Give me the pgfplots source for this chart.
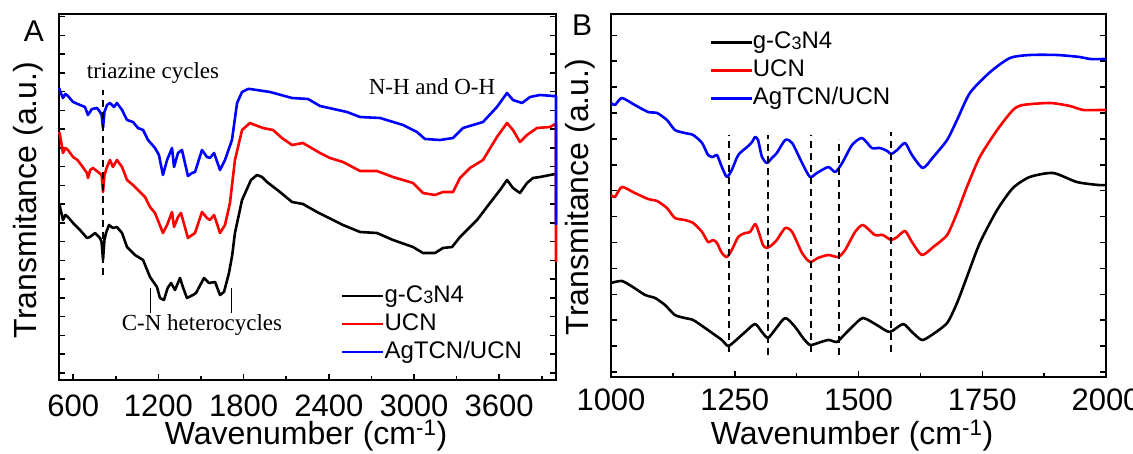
\documentclass[border=0pt]{standalone}
\usepackage{pgfplots}
\pgfplotsset{compat=1.18}
\usepackage{fontspec}
\setmainfont{Liberation Sans}
\newfontfamily\tnr{Liberation Serif}
\definecolor{cblue}{RGB}{0,0,255}
\definecolor{cred}{RGB}{255,0,0}
\pgfplotsset{
  common/.style={
    anchor=south west, scale only axis,
    axis line style={line width=1.8pt},
    every tick/.style={line width=1.5pt, black},
    major tick length=6pt, minor tick length=4pt,
    xtick pos=lower, ytick pos=both,
    yticklabels={},
    /pgf/number format/assume math mode=true,
    /pgf/number format/1000 sep={},
    tick label style={font=\fontsize{31}{31}\selectfont},
    xticklabel style={anchor=base, yshift=-37pt},
    every axis plot/.append style={line width=2.6pt, line join=round},
    legend cell align=left,
    legend image code/.code={\draw[#1] (0pt,0pt) -- (41pt,0pt);},
  },
  lgd/.style={legend style={draw=none, fill=none, at={#1}, anchor=north west,
    font=\fontsize{24}{24}\selectfont, row sep=4pt,
    nodes={inner sep=0pt, text height=18pt, text depth=6pt},
    /tikz/every even column/.append style={column sep=4pt}}},
}
\newcommand{\gcn}{g-C\raisebox{-1pt}{\fontsize{18}{18}\selectfont 3}N4}
\begin{document}
\begin{tikzpicture}[x=1pt,y=1pt]
\useasboundingbox (0,0) rectangle (1133,454);
\clip (0,0) rectangle (1133,454);
% ---------------- Panel A
\begin{axis}[common, at={(59pt,74pt)}, width=497pt, height=366pt, clip=false,
  xmin=500, xmax=4000, ymin=0, ymax=366,
  xtick={600,1200,1800,2400,3000,3600},
  minor xtick={900,1500,2100,2700,3300,3900},
  ytick={7,25.75,44.5,63.25,82,100.75,119.5,138.25,157,175.75,194.5,213.25,232,250.75,269.5,288.25,307,325.75,344.5,363.25},
  lgd={(0.561,0.268)}]
\addplot[black] coordinates {
(502,177)(507,173)(528,160)(545,165)(563,163)(599,157)(648,150)(697,142)(718,143)(754,147)(789,142)(800,138)(810,120)(820,140)(831,147)(852,155)(880,152)(908,153)(944,147)(979,133)(1035,125)(1092,120)(1141,103)(1190,93)(1211,82)(1239,80)(1265,92)(1289,97)(1317,90)(1352,102)(1375,92)(1401,82)(1444,85)(1465,87)(1521,102)(1556,97)(1599,98)(1634,85)(1662,88)(1697,107)(1720,125)(1739,147)(1789,180)(1852,200)(1894,205)(1930,203)(1965,198)(2056,188)(2141,178)(2218,176)(2317,168)(2387,163)(2500,155)(2620,148)(2739,147)(2852,140)(2993,133)(3063,127)(3148,127)(3204,132)(3268,133)(3324,143)(3444,160)(3535,177)(3606,190)(3655,200)(3697,192)(3746,187)(3796,197)(3838,202)(3887,203)(3958,205)(3995,206)};
\addlegendentry{\gcn}
\addplot[cred] coordinates {
(502,248)(507,245)(528,227)(545,232)(563,230)(599,223)(630,220)(662,214)(697,207)(704,202)(720,210)(739,212)(775,208)(800,205)(810,188)(820,205)(838,213)(859,220)(880,213)(908,220)(944,213)(979,200)(1021,195)(1070,188)(1106,183)(1141,173)(1176,167)(1204,157)(1232,147)(1261,155)(1296,168)(1310,153)(1338,163)(1359,167)(1408,142)(1437,145)(1458,147)(1507,168)(1542,162)(1563,160)(1592,165)(1634,147)(1669,155)(1704,177)(1739,220)(1789,250)(1845,257)(1880,255)(1937,252)(2007,250)(2070,242)(2141,235)(2218,237)(2338,227)(2408,222)(2500,218)(2620,209)(2739,209)(2852,203)(2993,197)(3063,187)(3148,185)(3204,188)(3275,188)(3324,202)(3394,212)(3486,220)(3584,243)(3655,257)(3697,250)(3746,238)(3796,245)(3866,252)(3958,253)(3995,256)(4000,256)(4000,118)};
\addlegendentry{UCN}
\addplot[cblue] coordinates {
(502,292)(507,289)(528,282)(545,286)(563,284)(599,278)(648,275)(683,273)(704,265)(732,271)(768,272)(789,268)(800,265)(810,252)(820,268)(838,275)(859,277)(887,273)(908,277)(944,270)(979,260)(1021,258)(1056,252)(1092,250)(1127,240)(1176,232)(1204,225)(1232,205)(1261,220)(1296,232)(1310,213)(1338,227)(1366,230)(1408,204)(1437,207)(1458,208)(1507,230)(1542,223)(1563,222)(1592,227)(1634,210)(1669,220)(1718,240)(1754,277)(1789,288)(1831,291)(1845,291)(1986,288)(2141,282)(2254,281)(2338,274)(2528,268)(2620,263)(2761,262)(2923,255)(3021,248)(3077,241)(3183,240)(3275,242)(3345,252)(3486,258)(3584,273)(3655,287)(3697,280)(3761,277)(3817,283)(3887,285)(3979,284)(4000,284)(4000,155)};
\addlegendentry{AgTCN/UCN}
\addplot[black, line width=1.5pt, dash pattern=on 7pt off 5pt, forget plot] coordinates {(810,105)(810,290)};
\addplot[black, line width=0.8pt, forget plot] coordinates {(1141,67)(1141,92)};
\addplot[black, line width=0.8pt, forget plot] coordinates {(1711,67)(1711,92)};
\node[font=\tnr\fontsize{23}{23}\selectfont] at (axis cs:1162,307) {triazine cycles};
\node[font=\tnr\fontsize{23}{23}\selectfont] at (axis cs:3127,293) {N-H and O-H};
\node[font=\tnr\fontsize{23}{23}\selectfont] at (axis cs:1507,55) {C-N heterocycles};
\end{axis}
% ---------------- Panel B
\begin{axis}[common, at={(611pt,77pt)}, width=495pt, height=363pt,
  xmin=1000, xmax=2000, ymin=0, ymax=363,
  xtick={1000,1250,1500,1750,2000},
  minor xtick={1125,1375,1625,1875},
  ytick={5,30.9,56.8,82.7,108.6,134.5,160.4,186.3,212.2,238.1,264,289.9,315.8,341.7},
  xticklabel style={yshift=3pt},
  lgd={(0.192,0.961)}]
\addplot[black, smooth, tension=0.4] coordinates {
(1000,94)(1022,96)(1044,90)(1069,82)(1089,79)(1109,72)(1129,62)(1149,59)(1166,57)(1190,49)(1210,42)(1224,37)(1236,31)(1246,34)(1271,45)(1291,53)(1305,45)(1317,39)(1331,47)(1352,59)(1372,50)(1388,39)(1402,32)(1418,34)(1439,37)(1456,35)(1467,40)(1487,50)(1509,59)(1537,52)(1563,45)(1590,53)(1608,45)(1628,37)(1648,42)(1679,54)(1699,74)(1719,100)(1745,134)(1780,167)(1812,189)(1846,200)(1893,204)(1941,195)(1984,192)(2000,192)};
\addlegendentry{\gcn}
\addplot[cred, smooth, tension=0.4] coordinates {
(1000,182)(1008,180)(1022,190)(1048,184)(1075,178)(1093,176)(1113,169)(1129,159)(1149,157)(1166,154)(1184,145)(1196,135)(1206,137)(1214,134)(1224,124)(1234,120)(1244,127)(1257,140)(1271,144)(1281,145)(1291,153)(1297,147)(1307,132)(1315,129)(1325,132)(1335,137)(1352,149)(1366,145)(1386,124)(1402,115)(1418,119)(1439,122)(1459,120)(1473,127)(1493,145)(1509,152)(1533,142)(1549,142)(1566,137)(1578,140)(1594,146)(1608,135)(1628,122)(1651,130)(1679,142)(1699,164)(1719,190)(1745,220)(1780,247)(1812,267)(1832,272)(1887,274)(1927,271)(1954,267)(1988,267)(2000,267)};
\addlegendentry{UCN}
\addplot[cblue, smooth, tension=0.4] coordinates {
(1000,274)(1008,272)(1022,279)(1048,272)(1075,265)(1093,264)(1113,257)(1129,247)(1149,244)(1166,242)(1184,234)(1196,222)(1206,220)(1214,222)(1224,210)(1234,200)(1244,207)(1257,222)(1275,230)(1285,235)(1291,240)(1297,237)(1305,220)(1315,214)(1325,219)(1335,224)(1352,237)(1366,234)(1386,214)(1402,200)(1416,204)(1439,210)(1453,205)(1467,214)(1487,232)(1507,239)(1527,229)(1543,229)(1558,226)(1566,223)(1578,227)(1594,234)(1608,222)(1630,209)(1651,220)(1679,237)(1699,257)(1725,284)(1766,305)(1806,319)(1846,322)(1901,322)(1947,320)(1968,318)(2000,318)};
\addlegendentry{AgTCN/UCN}
\addplot[black, line width=1.5pt, dash pattern=on 7pt off 5pt, forget plot] coordinates {(1238,25)(1238,242)};
\addplot[black, line width=1.5pt, dash pattern=on 7pt off 5pt, forget plot] coordinates {(1317,22)(1317,242)};
\addplot[black, line width=1.5pt, dash pattern=on 7pt off 5pt, forget plot] coordinates {(1404,25)(1404,242)};
\addplot[black, line width=1.5pt, dash pattern=on 7pt off 5pt, forget plot] coordinates {(1461,22)(1461,238)};
\addplot[black, line width=1.5pt, dash pattern=on 7pt off 5pt, forget plot] coordinates {(1566,25)(1566,245)};
\end{axis}
% ---------------- labels
\node[rotate=90, font=\fontsize{32}{32}\selectfont] at (28,254) {Transmitance (a.u.)};
\node[rotate=90, font=\fontsize{32}{32}\selectfont] at (580,257) {Transmitance (a.u.)};
\node[anchor=base, font=\fontsize{32}{32}\selectfont] at (306,9) {Wavenumber (cm\textsuperscript{-1})};
\node[anchor=base, font=\fontsize{32}{32}\selectfont] at (852,9) {Wavenumber (cm\textsuperscript{-1})};
\node[font=\fontsize{30}{30}\selectfont] at (34,423) {A};
\node[font=\fontsize{30}{30}\selectfont] at (582,429) {B};
\end{tikzpicture}
\end{document}
